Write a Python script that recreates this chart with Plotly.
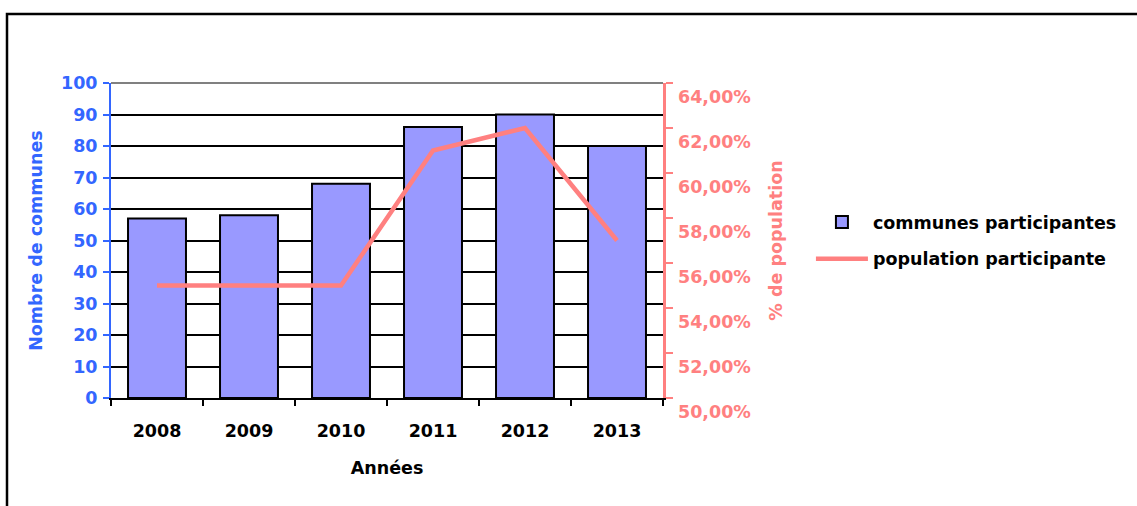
import plotly.graph_objects as go

years = ["2008", "2009", "2010", "2011", "2012", "2013"]
communes = [57, 58, 68, 86, 90, 80]
population_pct = [55.0, 55.0, 55.0, 61.0, 62.0, 57.0]

BLUE = "#3366FF"
SALMON = "#FF8080"
FONT = "DejaVu Sans"
FS = 17.5

fig = go.Figure()
fig.add_trace(go.Bar(
    x=years, y=communes, name="communes participantes",
    marker=dict(color="#9999FF", line=dict(color="black", width=2)),
    width=0.63, legendgroup="a", yaxis="y",
))
fig.add_trace(go.Scatter(
    x=years, y=population_pct, name="population participante",
    mode="lines", line=dict(color=SALMON, width=4.5),
    legendgroup="b", yaxis="y2",
))

fig.update_layout(
    width=1137, height=506,
    margin=dict(l=111, r=474, t=83, b=108),
    paper_bgcolor="white", plot_bgcolor="white",
    separators=", ",
    font=dict(family=FONT, size=FS, color="black", weight="bold"),
    showlegend=True,
    legend=dict(
        x=1.268, y=0.5, xanchor="left", yanchor="middle",
        font=dict(family=FONT, size=FS, color="black", weight="bold"),
        itemwidth=52, tracegroupgap=11, bgcolor="rgba(0,0,0,0)",
    ),
    xaxis=dict(
        type="category", showline=True, linecolor="black", linewidth=2,
        ticks="outside", tickson="boundaries", ticklen=6, tickwidth=2, tickcolor="black",
        showgrid=False,
        tickfont=dict(family=FONT, size=FS, color="black", weight="bold"),
        ticklabelstandoff=16,
        title=dict(text="Années", font=dict(family=FONT, size=FS, color="black", weight="bold"), standoff=22),
        automargin=False,
    ),
    yaxis=dict(
        range=[0, 100], dtick=10, showline=True, linecolor=BLUE, linewidth=2,
        ticks="outside", ticklen=6, tickwidth=2, tickcolor=BLUE,
        showgrid=True, gridcolor="black", gridwidth=2, zeroline=False,
        tickfont=dict(family=FONT, size=FS, color=BLUE, weight="bold"),
        ticklabelstandoff=2,
        title=dict(text="Nombre de communes", font=dict(family=FONT, size=FS, color=BLUE, weight="bold"), standoff=14),
        automargin=False,
    ),
    yaxis2=dict(
        range=[50, 64], dtick=2, overlaying="y", side="right",
        showline=True, linecolor=SALMON, linewidth=2.5,
        ticks="outside", ticklen=7, tickwidth=2.5, tickcolor=SALMON,
        showgrid=False, zeroline=False,
        tickformat=".2f", ticksuffix="%",
        ticklabelposition="outside bottom",
        ticklabelstandoff=9,
        tickfont=dict(family=FONT, size=FS, color=SALMON, weight="bold"),
        title=dict(text="% de population", font=dict(family=FONT, size=FS, color=SALMON, weight="bold"), standoff=20),
        automargin=False,
    ),
    shapes=[
        dict(type="line", xref="paper", yref="paper", x0=0, x1=1, y0=1, y1=1,
             line=dict(color="#808080", width=2), layer="above"),
        dict(type="rect", xref="paper", yref="paper",
             x0=(7 - 111) / 552, x1=(1145 - 111) / 552,
             y0=(398 - 515) / 315, y1=(398 - 14) / 315,
             line=dict(color="black", width=2.5), layer="below"),
    ],
)

fig.write_html(
    "out.html",
    config={"displayModeBar": False, "staticPlot": True},
    post_script="document.body.style.margin='0';document.body.style.overflow='hidden';",
)
